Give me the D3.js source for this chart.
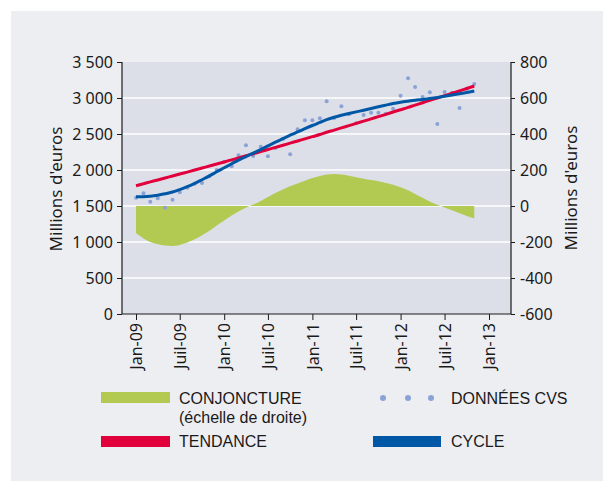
<!DOCTYPE html>
<html>
<head>
<meta charset="utf-8">
<script src="https://cdn.jsdelivr.net/npm/d3@7"></script>
<style>
  body { margin: 0; background: #fff; }
  svg { display: block; font-family: "Noto Sans", "Open Sans", sans-serif; }
</style>
</head>
<body>
<script>
// séries mensuelles, janvier 2009 -> novembre 2012
const startMonth = [2009, 0];

// données CVS (millions d'euros, échelle de gauche)
const donneesCVS = [1615, 1676, 1560, 1607, 1477, 1588, 1690, 1755, 1810, 1819, 1912, 2000,
  2116, 2051, 2204, 2343, 2194, 2324, 2190, 2305, 2430, 2218, 2565, 2690,
  2690, 2720, 2954, 2722, 2884, 2773, 2648, 2764, 2796, 2796, 2782, 2852,
  3032, 3273, 3153, 3014, 3079, 2639, 3083, 3074, 2861, 3130, 3194];

// tendance (échelle de gauche)
const tendance = [1782, 1809, 1835, 1862, 1889, 1916, 1944, 1971, 1999, 2027, 2055, 2083,
  2111, 2140, 2168, 2197, 2226, 2255, 2284, 2314, 2343, 2373, 2403, 2433,
  2463, 2493, 2524, 2554, 2585, 2616, 2647, 2678, 2710, 2741, 2773, 2805,
  2837, 2869, 2902, 2934, 2967, 3000, 3033, 3066, 3099, 3132, 3166];

// cycle (échelle de gauche)
const cycle = [1630, 1629, 1635, 1649, 1669, 1694, 1728, 1768, 1814, 1865, 1918, 1975,
  2031, 2087, 2138, 2187, 2234, 2283, 2334, 2386, 2435, 2483, 2528, 2573,
  2618, 2660, 2699, 2732, 2760, 2784, 2807, 2830, 2854, 2878, 2901, 2923,
  2941, 2956, 2969, 2980, 2992, 3007, 3025, 3042, 3059, 3077, 3096];

// conjoncture (échelle de droite)
const conjoncture = [-152, -180, -200, -213, -220, -222, -216, -203, -185, -162, -137, -108,
  -80, -53, -30, -10, 8, 28, 50, 72, 92, 110, 125, 140,
  155, 167, 175, 178, 175, 168, 160, 152, 144, 137, 128, 118,
  104, 87, 67, 46, 25, 7, -8, -24, -40, -55, -70];

const leftTicks = [0, 500, 1000, 1500, 2000, 2500, 3000, 3500];
const rightTicks = [-600, -400, -200, 0, 200, 400, 600, 800];
const xTickDates = [[2009, 0], [2009, 6], [2010, 0], [2010, 6], [2011, 0], [2011, 6], [2012, 0], [2012, 6], [2013, 0]];
const moisNoms = { 0: "Jan", 6: "Juil" };

const W = 603, H = 481;
const plot = { left: 122, right: 511, top: 62, bottom: 314 };

const dates = donneesCVS.map((d, i) => new Date(startMonth[0], startMonth[1] + i, 1));

const svg = d3.select("body").append("svg")
  .attr("width", W).attr("height", H);

// fond du cadre
svg.append("rect")
  .attr("x", 11).attr("y", 11).attr("width", W - 11).attr("height", H - 11)
  .attr("fill", "#edeef2");

svg.append("rect")
  .attr("x", plot.left).attr("y", plot.top)
  .attr("width", plot.right - plot.left).attr("height", plot.bottom - plot.top)
  .attr("fill", "#dcdfe8");

const x = d3.scaleTime()
  .domain([new Date(2008, 10, 4), new Date(2013, 3, 2)])
  .range([plot.left, plot.right]);

const yL = d3.scaleLinear().domain([0, 3500]).range([plot.bottom, plot.top]);
const yR = d3.scaleLinear().domain([-600, 800]).range([plot.bottom, plot.top]);

// quadrillage
svg.append("g")
  .selectAll("line")
  .data(leftTicks.filter(d => d > 0 && d < 3500))
  .join("line")
  .attr("x1", plot.left).attr("x2", plot.right)
  .attr("y1", d => yL(d)).attr("y2", d => yL(d))
  .attr("stroke", "#ffffff").attr("stroke-width", 1.3);

// conjoncture (aire)
const area = d3.area()
  .x((d, i) => x(dates[i]))
  .y0(yR(0))
  .y1(d => yR(d))
  .curve(d3.curveMonotoneX);

svg.append("path")
  .datum(conjoncture)
  .attr("d", area)
  .attr("fill", "#b2ca52");

// données CVS
svg.append("g")
  .selectAll("circle")
  .data(donneesCVS)
  .join("circle")
  .attr("cx", (d, i) => x(dates[i]))
  .attr("cy", d => yL(d))
  .attr("r", 2)
  .attr("fill", "#8aa2d6");

const line = d3.line()
  .x((d, i) => x(dates[i]))
  .y(d => yL(d))
  .curve(d3.curveMonotoneX);

svg.append("path")
  .datum(tendance)
  .attr("d", line)
  .attr("fill", "none")
  .attr("stroke", "#e2003c")
  .attr("stroke-width", 3);

svg.append("path")
  .datum(cycle)
  .attr("d", line)
  .attr("fill", "none")
  .attr("stroke", "#0057a5")
  .attr("stroke-width", 3);

// axes
const fmtNum = d3.formatLocale({ decimal: ",", thousands: " ", grouping: [3], currency: ["", " €"], minus: "-" }).format(",d");

const axL = svg.append("g")
  .attr("transform", `translate(${plot.left},0)`)
  .call(d3.axisLeft(yL).tickValues(leftTicks).tickSize(5).tickPadding(4).tickFormat(fmtNum));

const axR = svg.append("g")
  .attr("transform", `translate(${plot.right},0)`)
  .call(d3.axisRight(yR).tickValues(rightTicks).tickSize(4).tickPadding(5).tickFormat(fmtNum));

const axB = svg.append("g")
  .attr("transform", `translate(0,${plot.bottom})`)
  .call(d3.axisBottom(x)
    .tickValues(xTickDates.map(d => new Date(d[0], d[1], 1)))
    .tickSize(6)
    .tickFormat(d => moisNoms[d.getMonth()] + "-" + String(d.getFullYear()).slice(2)));

axB.selectAll("text")
  .attr("transform", "rotate(-90)")
  .attr("text-anchor", "end")
  .attr("x", -9)
  .attr("y", 0)
  .attr("dy", "0.35em");

[axL, axR, axB].forEach(a => {
  a.select(".domain").attr("stroke", "#1a1a1a").attr("stroke-width", 1.2);
  a.selectAll(".tick line").attr("stroke", "#1a1a1a");
  a.selectAll("text").attr("font-size", 16).attr("fill", "#1a1a1a")
    .attr("font-family", "Noto Sans, Open Sans, sans-serif");
});
axL.select(".domain").attr("d", `M-0,${plot.top}V${plot.bottom}`);
axR.select(".domain").attr("d", `M0,${plot.top}V${plot.bottom}`);
axB.select(".domain").attr("d", `M${plot.left},0H${plot.right}`);

// titres des axes
svg.append("text")
  .attr("transform", `translate(62,${(plot.top + plot.bottom) / 2 + 1}) rotate(-90)`)
  .attr("text-anchor", "middle")
  .attr("font-size", 17).attr("fill", "#1a1a1a")
  .text("Millions d'euros");

svg.append("text")
  .attr("transform", `translate(577,${(plot.top + plot.bottom) / 2}) rotate(-90)`)
  .attr("text-anchor", "middle")
  .attr("font-size", 17).attr("fill", "#1a1a1a")
  .text("Millions d'euros");

// légende
const leg = svg.append("g")
  .attr("font-size", 16)
  .attr("font-family", "Liberation Sans, Arial, sans-serif")
  .attr("fill", "#1a1a1a");

leg.append("rect").attr("x", 101).attr("y", 392).attr("width", 69).attr("height", 11).attr("fill", "#b2ca52");
leg.append("text").attr("x", 179).attr("y", 404).text("CONJONCTURE");
leg.append("text").attr("x", 179).attr("y", 423).text("(échelle de droite)");

leg.append("rect").attr("x", 101).attr("y", 436).attr("width", 69).attr("height", 11).attr("fill", "#e2003c");
leg.append("text").attr("x", 179).attr("y", 447).text("TENDANCE");

leg.selectAll("circle.leg")
  .data([383, 408, 431])
  .join("circle")
  .attr("class", "leg")
  .attr("cx", d => d).attr("cy", 398).attr("r", 3)
  .attr("fill", "#8aa2d6");
leg.append("text").attr("x", 451).attr("y", 404).text("DONNÉES CVS");

leg.append("rect").attr("x", 373).attr("y", 436).attr("width", 68).attr("height", 11).attr("fill", "#0057a5");
leg.append("text").attr("x", 451).attr("y", 447).text("CYCLE");
</script>
</body>
</html>
